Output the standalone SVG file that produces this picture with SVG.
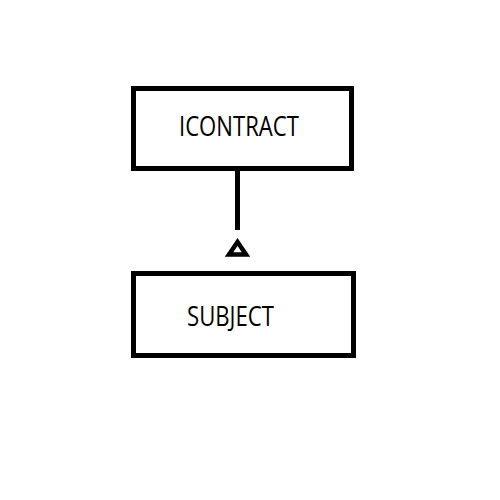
<svg xmlns="http://www.w3.org/2000/svg" width="500" height="500" viewBox="0 0 500 500">
<style>
.box{fill:#fff;stroke:#000;stroke-width:5}
.lbl{font-family:"Open Sans","Noto Sans",sans-serif;font-size:27px;fill:#000}
.conn{stroke:#000;stroke-width:5;fill:none}
.tri{fill:#fff;stroke:#000;stroke-width:4.5;stroke-linejoin:miter}
</style>
<rect width="500" height="500" fill="#fff"/>
<g id="icontract">
<rect class="box" x="133.5" y="88.5" width="218" height="80"/>
<text class="lbl" x="179" y="136" textLength="120" lengthAdjust="spacingAndGlyphs">ICONTRACT</text>
</g>
<g id="subject">
<rect class="box" x="133.5" y="273.5" width="220" height="82"/>
<text class="lbl" x="187" y="326" textLength="87" lengthAdjust="spacingAndGlyphs">SUBJECT</text>
</g>
<g id="connectors">
<line class="conn" x1="237.5" y1="171" x2="237.5" y2="230"/>
<polygon class="tri" points="237.5,242 229,254.5 246,254.5"/>
</g>
</svg>
